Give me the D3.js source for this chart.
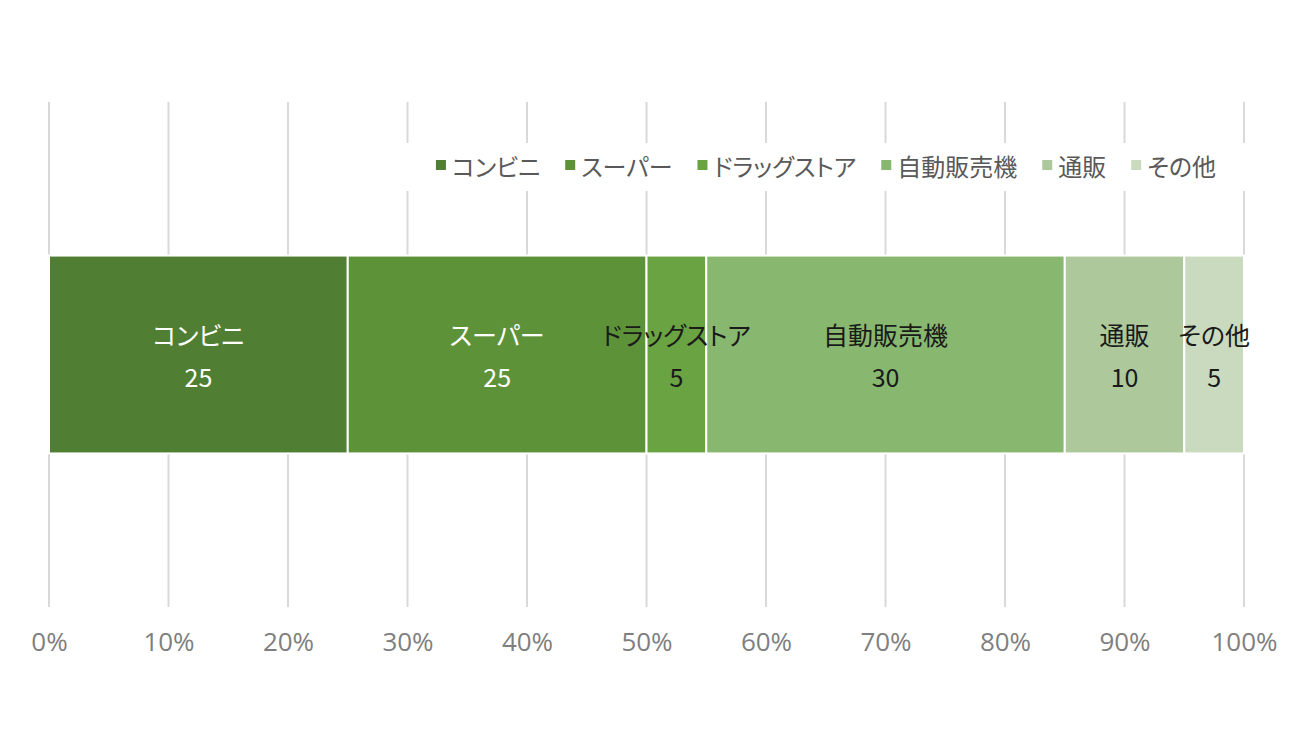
<!DOCTYPE html>
<html>
<head>
<meta charset="utf-8">
<script src="https://cdn.jsdelivr.net/npm/d3@7"></script>
<style>
  body { margin: 0; background: #fff; }
  .jp { font-family: 'Noto Sans CJK JP', 'Noto Sans', sans-serif; font-feature-settings: "palt"; }
</style>
</head>
<body>
<div id="chart"></div>
<script>
// data
const categories = ["コンビニ", "スーパー", "ドラッグストア", "自動販売機", "通販", "その他"];
const values = [25, 25, 5, 30, 10, 5];
const colors = ["#507e32", "#5e9239", "#6aa341", "#88b86f", "#adc99b", "#c9dabf"];
const labelColors = ["#ffffff", "#ffffff", "#1a1a1a", "#1a1a1a", "#1a1a1a", "#1a1a1a"];
const tickValues = [0, 0.1, 0.2, 0.3, 0.4, 0.5, 0.6, 0.7, 0.8, 0.9, 1.0];

const W = 1300, H = 750;

const svg = d3.select("#chart").append("svg")
  .attr("width", W)
  .attr("height", H);

// scales
const total = d3.sum(values);
const x = d3.scaleLinear().domain([0, 1]).range([49, 1244]);
const y = d3.scaleBand().domain(["all"]).range([102, 607]).padding(0.437);

// gridlines
svg.append("g")
  .selectAll("line")
  .data(tickValues)
  .join("line")
  .attr("x1", d => x(d))
  .attr("x2", d => x(d))
  .attr("y1", 102)
  .attr("y2", 607)
  .attr("stroke", "#d9d9d9")
  .attr("stroke-width", 2);

// axis labels
const xAxis = svg.append("g")
  .attr("transform", "translate(0,607)")
  .call(d3.axisBottom(x).tickValues(tickValues).tickFormat(d3.format(".0%")).tickSize(0).tickPadding(26));
xAxis.select(".domain").remove();
xAxis.selectAll("text")
  .attr("fill", "#7f7f7f")
  .style("font-family", "'Open Sans', 'Noto Sans', sans-serif")
  .style("font-size", "26px");

// stacked segments
let acc = 0;
const segs = categories.map((c, i) => {
  const s = { cat: c, value: values[i], x0: acc / total, x1: (acc + values[i]) / total, i };
  acc += values[i];
  return s;
});

const bandY = y("all");
const bandH = y.bandwidth();

svg.append("g")
  .selectAll("rect")
  .data(segs)
  .join("rect")
  .attr("x", d => x(d.x0))
  .attr("width", d => x(d.x1) - x(d.x0))
  .attr("y", bandY)
  .attr("height", bandH)
  .attr("fill", d => colors[d.i])
  .attr("stroke", "#fff")
  .attr("stroke-width", 2);

// data labels
const lab = svg.append("g")
  .selectAll("g")
  .data(segs)
  .join("g")
  .attr("transform", d => `translate(${(x(d.x0) + x(d.x1)) / 2},${bandY + bandH / 2})`);

lab.append("text")
  .attr("class", "jp")
  .attr("y", -21)
  .attr("text-anchor", "middle")
  .attr("dominant-baseline", "central")
  .attr("fill", d => labelColors[d.i])
  .style("font-size", "25px")
  .text(d => d.cat);

lab.append("text")
  .attr("class", "jp")
  .attr("y", 21)
  .attr("text-anchor", "middle")
  .attr("dominant-baseline", "central")
  .attr("fill", d => labelColors[d.i])
  .style("font-size", "25px")
  .text(d => d.value);

// legend
svg.append("rect")
  .attr("x", 400)
  .attr("y", 143)
  .attr("width", 850)
  .attr("height", 48)
  .attr("fill", "#fff");

const legend = svg.append("g");
const items = legend.selectAll("g")
  .data(categories)
  .join("g");

items.append("rect")
  .attr("width", 10)
  .attr("height", 10)
  .attr("y", -5)
  .attr("fill", (d, i) => colors[i]);

items.append("text")
  .attr("class", "jp")
  .attr("x", 16)
  .attr("dominant-baseline", "central")
  .attr("fill", "#595959")
  .style("font-size", "24px")
  .text(d => d);

const widths = [];
items.select("text").each(function() { widths.push(16 + this.getComputedTextLength()); });
const gap = 25;
const totalW = d3.sum(widths) + gap * (widths.length - 1);
let lx = 826 - totalW / 2;
items.attr("transform", (d, i) => {
  const t = `translate(${lx},165)`;
  lx += widths[i] + gap;
  return t;
});
</script>
</body>
</html>
